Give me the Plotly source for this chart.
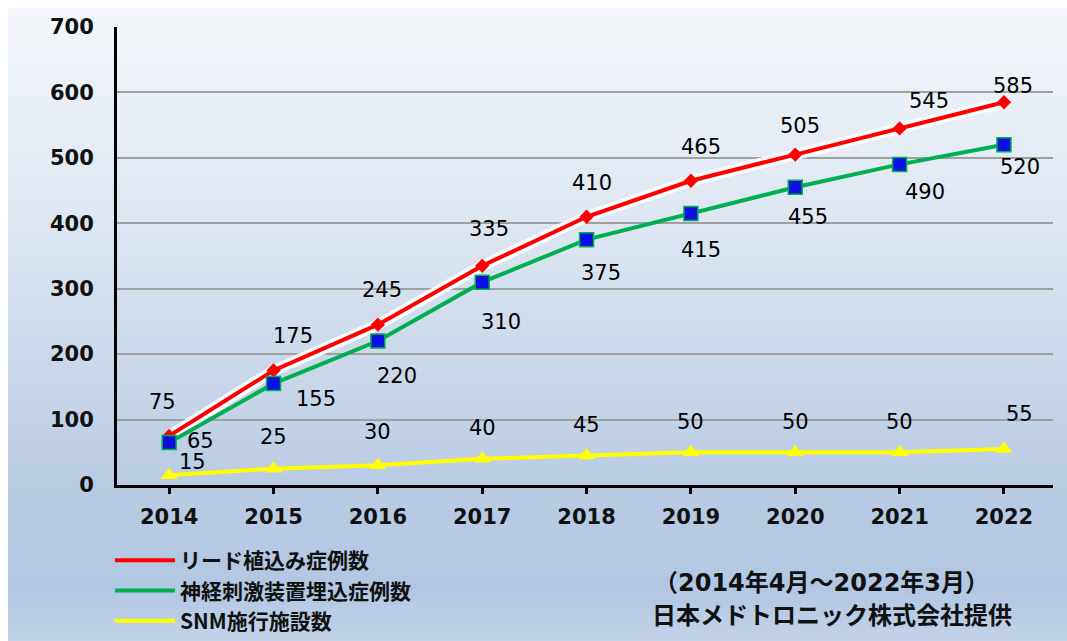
import plotly.graph_objects as go

# ---- data ----
years = ["2014", "2015", "2016", "2017", "2018", "2019", "2020", "2021", "2022"]
lead_cases = [75, 175, 245, 335, 410, 465, 505, 545, 585]
implant_cases = [65, 155, 220, 310, 375, 415, 455, 490, 520]
snm_sites = [15, 25, 30, 40, 45, 50, 50, 50, 55]

series_names = ["リード植込み症例数", "神経刺激装置埋込症例数", "SNM施行施設数"]
y_ticks = [0, 100, 200, 300, 400, 500, 600, 700]
note_lines = ["（2014年4月～2022年3月）", "日本メドトロニック株式会社提供"]

# label offsets (px, right / up) used to place the value labels near each marker
lead_off = [(-7, 34), (19, 35), (4, 35), (7, 37), (5, 34), (10, 34), (5, 29), (29, 27), (9, 16)]
implant_off = [(31, 1), (42, -15), (19, -35), (19, -40), (14, -33), (10, -37), (13, -30), (25, -28), (16, -22)]
snm_off = [(23, 13), (0, 32), (0, 33), (0, 31), (0, 31), (0, 30), (0, 30), (0, 30), (16, 35)]

RED = "#ff0000"
GREEN = "#00b050"
YELLOW = "#ffff00"
NUM_FONT = "DejaVu Sans"
JP_FONT = "Noto Sans CJK JP"

W, H = 1067, 641
ML, MR, MT, MB = 117, 14, 27, 156
PW, PH = W - ML - MR, H - MT - MB


def px_x(p):
    return (p - ML) / PW


def px_y(p):
    return (H - MB - p) / PH


def wide_digits(s):
    """Render ASCII digits of a Japanese string with a wider Latin face."""
    out = []
    for ch in s:
        if ch.isdigit():
            out.append('<span style="font-family:DejaVu Sans">%s</span>' % ch)
        else:
            out.append(ch)
    return "".join(out)


fig = go.Figure()

# halo beneath the red line
fig.add_trace(go.Scatter(x=years, y=lead_cases, mode="lines",
                         line=dict(color="rgba(255,255,255,0.9)", width=11),
                         hoverinfo="skip", showlegend=False))
fig.add_trace(go.Scatter(x=years, y=lead_cases, mode="lines+markers",
                         line=dict(color=RED, width=4),
                         marker=dict(symbol="diamond", size=11, color=RED),
                         showlegend=False))
fig.add_trace(go.Scatter(x=years, y=implant_cases, mode="lines+markers",
                         line=dict(color=GREEN, width=4),
                         marker=dict(symbol="square", size=14, color="#0a10e0",
                                     line=dict(color=GREEN, width=1.5)),
                         showlegend=False))
fig.add_trace(go.Scatter(x=years, y=snm_sites, mode="lines+markers",
                         line=dict(color=YELLOW, width=4),
                         marker=dict(symbol="triangle-up", size=15, color=YELLOW),
                         showlegend=False))

# legend entries (lines only)
for name, col in zip(series_names, [RED, GREEN, YELLOW]):
    fig.add_trace(go.Scatter(x=[None], y=[None], mode="lines", name=name,
                             line=dict(color=col, width=4)))

# value labels (x given as category index)
annotations = []
for vals, offs in [(lead_cases, lead_off), (implant_cases, implant_off), (snm_sites, snm_off)]:
    for i, (yv, (dx, dy)) in enumerate(zip(vals, offs)):
        annotations.append(dict(x=i, y=yv, xref="x", yref="y", text=str(yv),
                                showarrow=False, xanchor="center", yanchor="middle",
                                xshift=dx, yshift=dy,
                                font=dict(family=NUM_FONT, size=21, color="#000000")))

# source note
annotations.append(dict(x=px_x(821), y=px_y(580), xref="paper", yref="paper",
                        xanchor="center", yanchor="middle",
                        text=wide_digits(note_lines[0]), showarrow=False,
                        font=dict(family=JP_FONT, size=24, color="#111111", weight="bold")))
annotations.append(dict(x=px_x(832), y=px_y(613), xref="paper", yref="paper",
                        xanchor="center", yanchor="middle",
                        text=note_lines[1], showarrow=False,
                        font=dict(family=JP_FONT, size=24, color="#111111", weight="bold")))

# vertical gradient background built from thin strips
stops = [(8, (244, 247, 251)), (250, (218, 228, 240)), (480, (186, 204, 228)),
         (590, (177, 199, 227)), (641, (194, 211, 233))]


def grad_color(p):
    for (p0, c0), (p1, c1) in zip(stops[:-1], stops[1:]):
        if p0 <= p <= p1:
            t = (p - p0) / (p1 - p0)
            return "rgb(%d,%d,%d)" % tuple(round(a + (b - a) * t) for a, b in zip(c0, c1))
    return "rgb(%d,%d,%d)" % stops[-1][1]


shapes = []
step = 3
for p in range(8, H, step):
    shapes.append(dict(type="rect", xref="paper", yref="paper", layer="below",
                       x0=px_x(8), x1=px_x(W), y0=px_y(min(p + step, H)), y1=px_y(p),
                       line=dict(width=0), fillcolor=grad_color(p + step / 2)))

fig.update_layout(
    width=W, height=H,
    margin=dict(l=ML, r=MR, t=MT, b=MB, autoexpand=False),
    paper_bgcolor="white", plot_bgcolor="rgba(0,0,0,0)",
    shapes=shapes, annotations=annotations,
    showlegend=True,
    legend=dict(x=px_x(110), y=px_y(540), xanchor="left", yanchor="top",
                bgcolor="rgba(0,0,0,0)", itemwidth=60,
                font=dict(family=JP_FONT, size=21, color="#111111", weight="bold")),
    xaxis=dict(type="category", range=[-0.5, 8.47], showgrid=False,
               showline=True, linecolor="black", linewidth=3,
               ticks="outside", ticklen=6, tickwidth=3, tickcolor="black",
               ticklabelstandoff=5,
               tickfont=dict(family=NUM_FONT, size=21, color="#111111", weight="bold")),
    yaxis=dict(range=[0, 700], tickvals=y_ticks, showgrid=True,
               gridcolor="#a0a0a0", gridwidth=1.5, zeroline=False,
               showline=True, linecolor="black", linewidth=3, ticks="",
               ticklabelstandoff=16,
               tickfont=dict(family=NUM_FONT, size=21, color="#111111", weight="bold")),
)

fig.write_html("out.html")
